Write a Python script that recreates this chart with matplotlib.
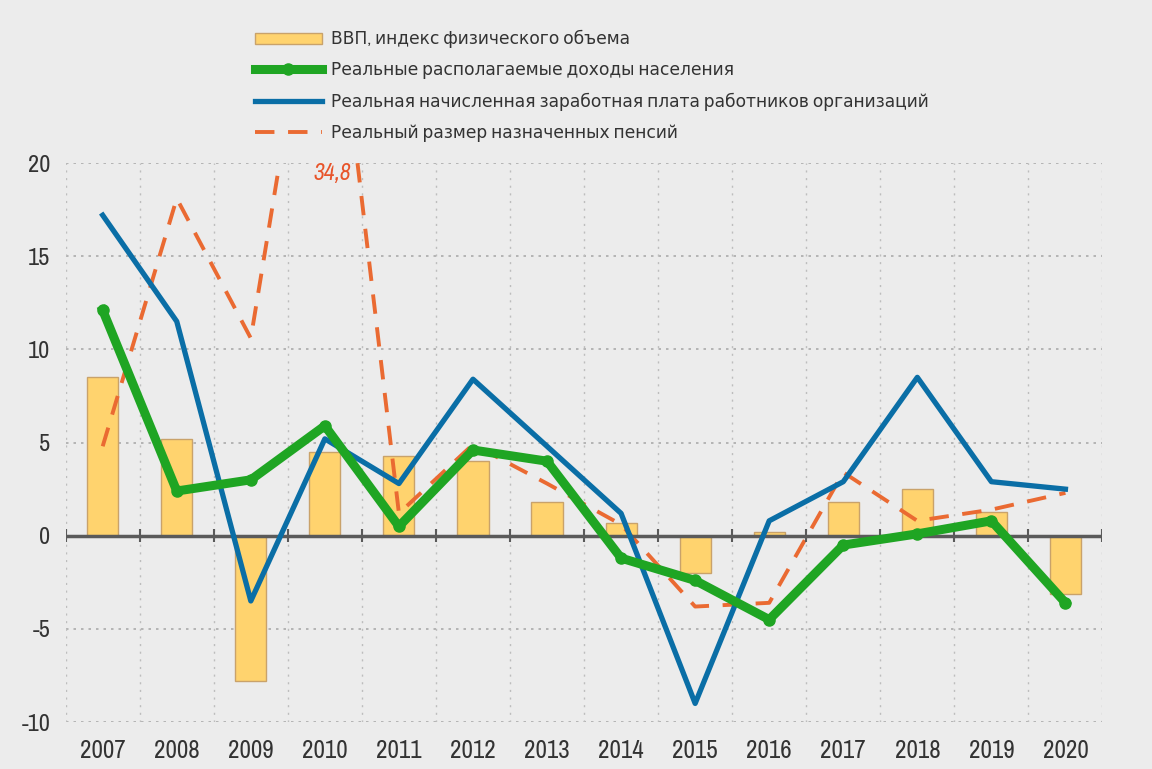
import numpy as np
import matplotlib.pyplot as plt
from matplotlib import font_manager

# narrow sans for all text, DejaVu as backup
names = sorted({f.name for f in font_manager.fontManager.ttflist})
narrow = [n for n in names if n == 'Liberation Sans Narrow'] or [n for n in names if 'Narrow' in n]
plt.rcParams['font.family'] = (narrow[:1] or ['Liberation Sans']) + ['DejaVu Sans']
plt.rcParams['axes.unicode_minus'] = False

years = [2007, 2008, 2009, 2010, 2011, 2012, 2013, 2014, 2015, 2016, 2017, 2018, 2019, 2020]
gdp = [8.5, 5.2, -7.8, 4.5, 4.3, 4.0, 1.8, 0.7, -2.0, 0.2, 1.8, 2.5, 1.3, -3.1]
incomes = [12.1, 2.4, 3.0, 5.9, 0.5, 4.6, 4.0, -1.2, -2.4, -4.5, -0.5, 0.1, 0.8, -3.6]
wages = [17.2, 11.5, -3.5, 5.2, 2.8, 8.4, 4.8, 1.2, -9.0, 0.8, 2.9, 8.5, 2.9, 2.5]
pensions = [4.8, 18.1, 10.6, 34.8, 1.2, 4.9, 2.8, 0.6, -3.8, -3.6, 3.4, 0.8, 1.4, 2.3]

labels = ['ВВП, индекс физического объема',
          'Реальные располагаемые доходы населения',
          'Реальная начисленная заработная плата работников организаций',
          'Реальный размер назначенных пенсий']

bg = '#ececec'
fig = plt.figure(figsize=(11.52, 7.69), dpi=100, facecolor=bg)
ax = fig.add_axes([0.057, 0.061, 0.9, 0.727], facecolor=bg)

x = np.arange(len(years))
bars = ax.bar(x, gdp, width=0.42, color='#ffd36e', edgecolor='#c9a26a', linewidth=1, zorder=2)
ln_inc, = ax.plot(x, incomes, color='#1fa523', lw=6.5, marker='o', ms=8, zorder=5)
ln_wage, = ax.plot(x, wages, color='#0a6ea6', lw=3.8, zorder=4)
ln_pen, = ax.plot(x, pensions, color='#ea6a32', lw=2.8, ls=(0, (5, 3.5)), zorder=3)

# value of the pension peak that runs off the top
i_peak = int(np.argmax(pensions))
ax.text(x[i_peak] + 0.1, 19.45, f'{pensions[i_peak]:.1f}'.replace('.', ','), color='#e8542a',
        fontsize=17, style='italic', ha='center', va='center', zorder=6,
        bbox=dict(facecolor=bg, edgecolor='none', pad=1))

ax.set_xlim(-0.5, len(years) - 0.5)
ax.set_ylim(-10, 20)
ax.set_yticks([-10, -5, 0, 5, 10, 15, 20])
ax.set_xticks(x)
ax.set_xticklabels(years)
ax.tick_params(length=0, labelsize=18, colors='#333333')
ax.tick_params(axis='x', pad=12)
ax.tick_params(axis='y', pad=11, labelsize=17.5)
for s in ax.spines.values():
    s.set_visible(False)

# dotted grid: horizontal at ticks, vertical between years
bounds = np.arange(len(years) + 1) - 0.5
for yv in [-10, -5, 5, 10, 15, 20]:
    ax.axhline(yv, color='#ababab', lw=1.2, ls=(0, (1.5, 3)), zorder=1)
for bx in bounds:
    ax.axvline(bx, color='#bdbdbd', lw=1, ls=(0, (1.5, 4)), zorder=1)
ax.axhline(0, color='#5a5a5a', lw=2.5, zorder=3)
ax.vlines(bounds, -0.35, 0.35, color='#5a5a5a', lw=1.5, zorder=3)

fig.legend([bars, ln_inc, ln_wage, ln_pen], labels, loc='upper left',
           bbox_to_anchor=(0.208, 0.981), frameon=False, fontsize=12.3,
           handlelength=3.9, handleheight=0.6, labelspacing=0.8, handletextpad=0.55,
           labelcolor='#333333')

fig.savefig('out.png', dpi=100, facecolor=bg)
